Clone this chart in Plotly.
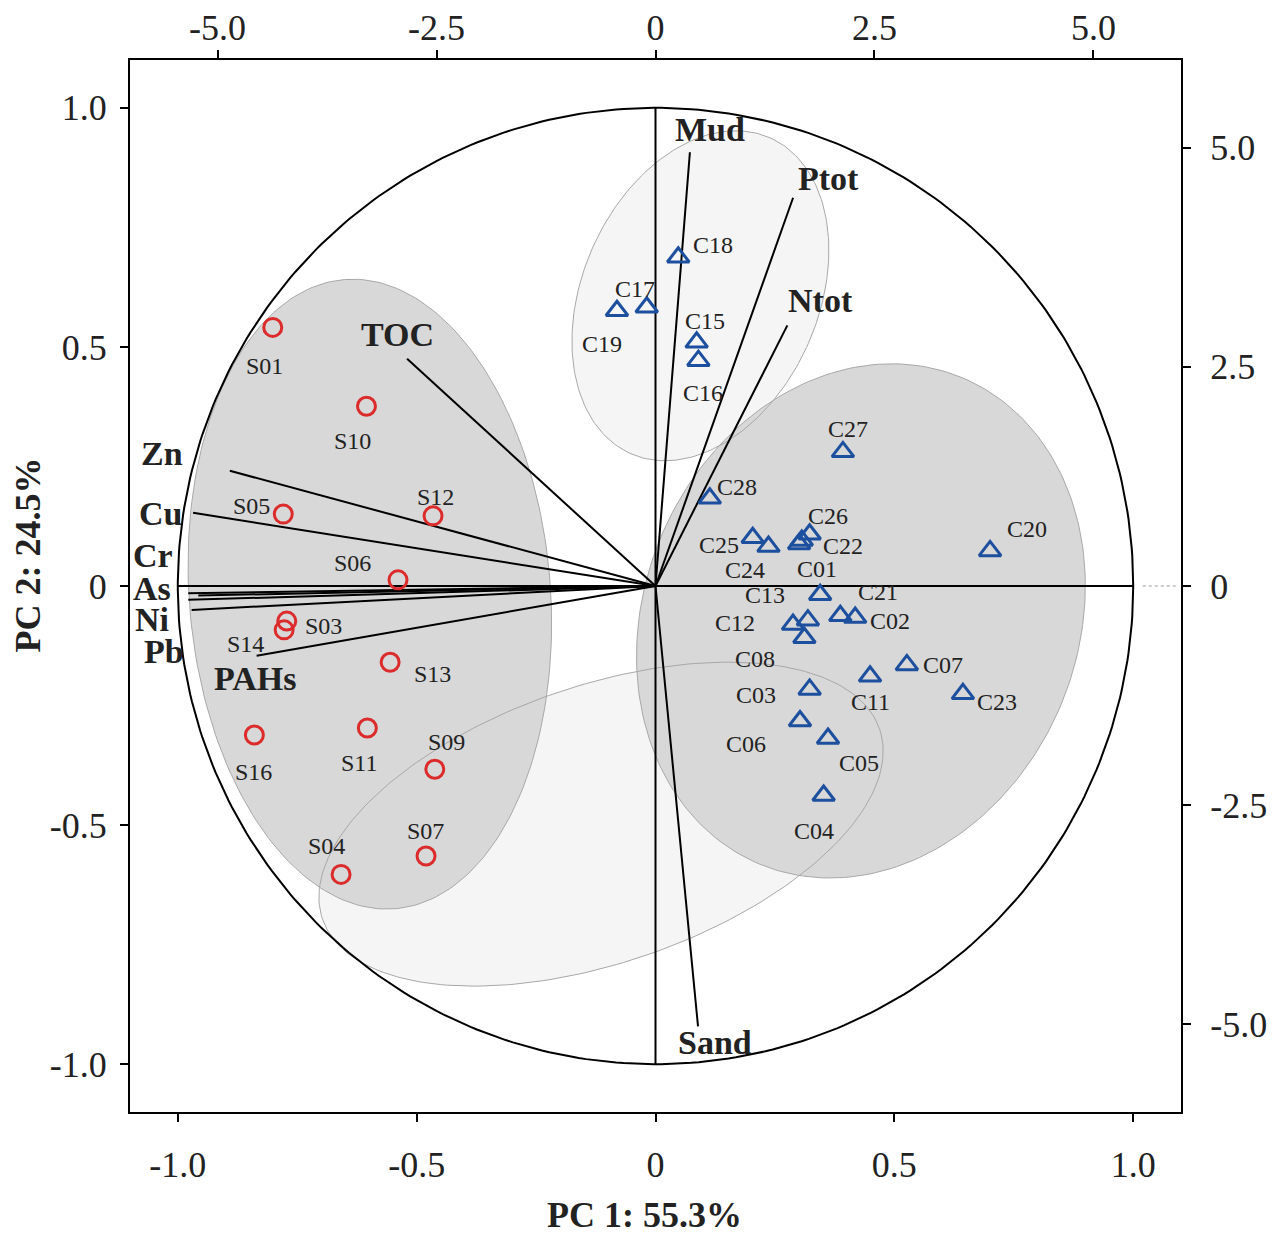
import numpy as np
import plotly.graph_objects as go

# ---------------- data ----------------
# Sample scores (PC1, PC2) -> top / right axes
s_names = ["S01", "S10", "S05", "S12", "S06", "S03", "S14", "S13", "S16", "S11", "S09", "S07", "S04"]
s_pc1 = [-4.37, -3.30, -4.25, -2.54, -2.94, -4.21, -4.24, -3.03, -4.58, -3.29, -2.52, -2.62, -3.59]
s_pc2 = [2.95, 2.05, 0.82, 0.80, 0.07, -0.40, -0.50, -0.87, -1.70, -1.62, -2.09, -3.08, -3.29]

c_names = ["C18", "C17", "C19", "C15", "C16", "C27", "C28", "C25", "C24", "C01", "C22", "C26", "C20",
           "C13", "C21", "C02", "C12", "", "C08", "C07", "C11", "C23", "C03", "C06", "C05", "C04"]
c_pc1 = [0.26, -0.10, -0.44, 0.47, 0.49, 2.14, 0.62, 1.11, 1.29, 1.64, 1.67, 1.76, 3.82,
         1.88, 2.11, 2.28, 1.57, 1.74, 1.70, 2.87, 2.45, 3.51, 1.76, 1.65, 1.97, 1.92]
c_pc2 = [3.75, 3.18, 3.14, 2.78, 2.57, 1.53, 1.00, 0.55, 0.45, 0.48, 0.52, 0.59, 0.40,
         -0.10, -0.34, -0.36, -0.44, -0.39, -0.59, -0.90, -1.03, -1.23, -1.18, -1.54, -1.74, -2.39]

# Variable loadings (PC1, PC2) -> bottom / left axes
var_names = ["Mud", "Ptot", "Ntot", "TOC", "Zn", "Cu", "Cr", "As", "Ni", "Pb", "PAHs", "Sand"]
var_pc1 = [0.072, 0.288, 0.276, -0.520, -0.891, -0.968, -0.978, -0.957, -0.978, -0.971, -0.835, 0.089]
var_pc2 = [0.907, 0.812, 0.545, 0.475, 0.241, 0.153, -0.015, -0.020, -0.029, -0.050, -0.146, -0.921]

# tick labels
load_ticks = [-1.0, -0.5, 0, 0.5, 1.0]
load_ticktext = ["-1.0", "-0.5", "0", "0.5", "1.0"]
score_ticks = [-5.0, -2.5, 0, 2.5, 5.0]
score_ticktext = ["-5.0", "-2.5", "0", "2.5", "5.0"]

# ---------------- styling / layout helpers ----------------
FONT = "Liberation Serif"
TXT = "#222222"
RED = "#dc2b2b"
BLUE = "#1d4f9f"

# label offsets in pixels (dx right, dy down)
s_off = {"S01": (-8, 39), "S10": (-14, 35), "S05": (-32, -8), "S12": (2, -19), "S06": (-46, -17),
         "S03": (37, 5), "S14": (-39, 14), "S13": (42, 12), "S16": (-1, 37), "S11": (-8, 35),
         "S09": (12, -27), "S07": (-1, -25), "S04": (-15, -28)}
c_off = {"C18": (35, -12), "C17": (-12, -18), "C19": (-15, 33), "C15": (8, -21), "C16": (5, 32),
         "C27": (5, -23), "C28": (27, -11), "C25": (-34, 7), "C24": (-23, 23), "C01": (18, 25),
         "C22": (41, 6), "C26": (18, -18), "C20": (37, -22), "C13": (-55, 0), "C21": (38, -24),
         "C02": (35, 3), "C12": (-58, -2), "C08": (-49, 21), "C07": (36, 0), "C11": (0, 26),
         "C23": (34, 8), "C03": (-54, 6), "C06": (-54, 23), "C05": (31, 24), "C04": (-10, 35)}
v_off = {"Mud": (20, -23), "Ptot": (35, -19), "Ntot": (33, -25), "TOC": (-10, -24), "Zn": (-68, -17),
         "Cu": (-33, 1), "Cr": (-35, -38), "As": (-46, -7), "Ni": (-36, 20), "Pb": (-28, 42),
         "PAHs": (-2, 23), "Sand": (17, 16)}

# group ellipses: (cx, cy, semi-major, semi-minor, angle deg)
ellipses_light = [(0.094, 0.607, 0.361, 0.247, 66.2), (-0.114, -0.498, 0.616, 0.290, 18.8)]
ellipses_dark = [(-0.598, -0.017, 0.660, 0.378, 94.6), (0.430, -0.073, 0.551, 0.454, 67.3)]


def ellipse_xy(cx, cy, a, b, ang):
    t = np.linspace(0, 2 * np.pi, 241)
    th = np.radians(ang)
    x = cx + a * np.cos(th) * np.cos(t) - b * np.sin(th) * np.sin(t)
    y = cy + a * np.sin(th) * np.cos(t) + b * np.cos(th) * np.sin(t)
    return x, y


fig = go.Figure()

for e in ellipses_light:
    x, y = ellipse_xy(*e)
    fig.add_trace(go.Scatter(x=x, y=y, mode="lines", fill="toself", fillcolor="#f5f5f5",
                             line=dict(width=0), hoverinfo="skip", showlegend=False))
for e in ellipses_dark:
    x, y = ellipse_xy(*e)
    fig.add_trace(go.Scatter(x=x, y=y, mode="lines", fill="toself", fillcolor="#d8d8d8",
                             line=dict(width=0), hoverinfo="skip", showlegend=False))
for e in ellipses_light + ellipses_dark:
    x, y = ellipse_xy(*e)
    fig.add_trace(go.Scatter(x=x, y=y, mode="lines", line=dict(width=1, color="#a8a8a8"),
                             hoverinfo="skip", showlegend=False))

# unit circle
t = np.linspace(0, 2 * np.pi, 400)
fig.add_trace(go.Scatter(x=np.cos(t), y=np.sin(t), mode="lines", line=dict(color="black", width=2),
                         hoverinfo="skip", showlegend=False))
# axes inside the circle
fig.add_trace(go.Scatter(x=[-1, 1], y=[0, 0], mode="lines", line=dict(color="black", width=2),
                         hoverinfo="skip", showlegend=False))
fig.add_trace(go.Scatter(x=[0, 0], y=[-1, 1], mode="lines", line=dict(color="black", width=2),
                         hoverinfo="skip", showlegend=False))
fig.add_trace(go.Scatter(x=[1.02, 1.09], y=[0, 0], mode="lines",
                         line=dict(color="#999999", width=1.2, dash="dot"),
                         hoverinfo="skip", showlegend=False))

# loading vectors
for nm, vx, vy in zip(var_names, var_pc1, var_pc2):
    fig.add_trace(go.Scatter(x=[0, vx], y=[0, vy], mode="lines", line=dict(color="black", width=2),
                             name=nm, showlegend=False))

# sample points
fig.add_trace(go.Scatter(x=s_pc1, y=s_pc2, xaxis="x2", yaxis="y2", mode="markers", text=s_names,
                         marker=dict(symbol="circle-open", size=18, color=RED, line=dict(width=3, color=RED)),
                         showlegend=False))
fig.add_trace(go.Scatter(x=c_pc1, y=c_pc2, xaxis="x2", yaxis="y2", mode="markers", text=c_names,
                         marker=dict(symbol="triangle-up-open", size=19, color=BLUE,
                                     line=dict(width=3, color=BLUE)),
                         showlegend=False))

ann = []
for nm, x, y in zip(s_names, s_pc1, s_pc2):
    dx, dy = s_off[nm]
    ann.append(dict(x=x, y=y, xref="x2", yref="y2", text=nm, showarrow=False, xshift=dx, yshift=-dy,
                    font=dict(family=FONT, size=24, color=TXT)))
for nm, x, y in zip(c_names, c_pc1, c_pc2):
    if not nm:
        continue
    dx, dy = c_off[nm]
    ann.append(dict(x=x, y=y, xref="x2", yref="y2", text=nm, showarrow=False, xshift=dx, yshift=-dy,
                    font=dict(family=FONT, size=24, color=TXT)))
for nm, x, y in zip(var_names, var_pc1, var_pc2):
    dx, dy = v_off[nm]
    ann.append(dict(x=x, y=y, xref="x", yref="y", text="<b>" + nm + "</b>", showarrow=False,
                    xshift=dx, yshift=-dy, font=dict(family=FONT, size=34, color=TXT)))

# axis titles
ann.append(dict(x=0.49, y=-0.098, xref="paper", yref="paper", xanchor="center", yanchor="middle",
                text="<b>PC 1: 55.3%</b>", showarrow=False,
                font=dict(family=FONT, size=36, color=TXT)))
ann.append(dict(x=-0.097, y=0.529, xref="paper", yref="paper", xanchor="center", yanchor="middle",
                text="<b>PC 2: 24.5%</b>", showarrow=False,
                textangle=-90, font=dict(family=FONT, size=36, color=TXT)))

tickfont = dict(family=FONT, size=36, color=TXT)
common = dict(showgrid=False, zeroline=False, showline=True, linecolor="black", linewidth=2,
              ticks="outside", ticklen=8, tickwidth=2, tickcolor="black", tickfont=tickfont,
              fixedrange=True, automargin=False)

# page body has an 8px default margin; size the figure so the plot area lands where the reference has it
fig.update_layout(
    width=1267, height=1226,
    margin=dict(l=122, r=94, t=52, b=122, autoexpand=False),
    paper_bgcolor="white", plot_bgcolor="white",
    showlegend=False,
    annotations=ann,
    xaxis=dict(range=[-1.1, 1.1], tickvals=load_ticks, ticktext=load_ticktext,
               ticklabelstandoff=12, **common),
    yaxis=dict(range=[-1.1, 1.1], tickvals=load_ticks, ticktext=load_ticktext,
               ticklabelstandoff=6, **common),
    xaxis2=dict(range=[-6.0, 6.0], tickvals=score_ticks, ticktext=score_ticktext, overlaying="x",
                side="top", anchor="y", ticklabelstandoff=-4, **common),
    yaxis2=dict(range=[-6.0, 6.0], tickvals=score_ticks, ticktext=score_ticktext, overlaying="y",
                side="right", anchor="x", ticklabelstandoff=12, **common),
)

fig.write_html("out.html")
